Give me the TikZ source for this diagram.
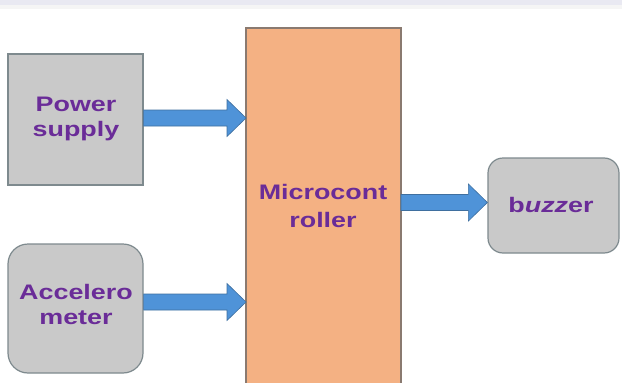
\documentclass[tikz,border=0pt]{standalone}
\usepackage{fontspec}
\setmainfont{Liberation Sans}
\usepackage{graphicx}
\usetikzlibrary{calc}
\definecolor{boxgray}{HTML}{C9C9C9}
\definecolor{boxedge}{HTML}{7E8A8E}
\definecolor{mcfill}{HTML}{F4B183}
\definecolor{mcedge}{HTML}{8A7A70}
\definecolor{arrowblue}{HTML}{4F93D8}
\definecolor{arrowedge}{HTML}{3F6F9F}
\definecolor{txtpurple}{HTML}{6A2C98}
\definecolor{topband}{HTML}{E9E9F2}
\newcommand\widetxt[1]{\scalebox{1.28}[1]{#1}}
\tikzset{
  lbl/.style={text=txtpurple, font=\fontsize{21}{25}\selectfont\bfseries, align=center, inner sep=0pt},
  graybox/.style={draw=boxedge, line width=1.2pt, fill=boxgray},
  mcbox/.style={draw=mcedge, line width=1.2pt, fill=mcfill},
  fat/.style={draw=arrowedge, line width=0.6pt, fill=arrowblue,
    to path={let \p1=(\tikztostart), \p2=(\tikztotarget) in
      (\x1,\y1-8pt) -- (\x2-19pt,\y1-8pt) -- (\x2-19pt,\y1-18.5pt) -- (\x2,\y1)
      -- (\x2-19pt,\y1+18.5pt) -- (\x2-19pt,\y1+8pt) -- (\x1,\y1+8pt) -- cycle}}
}
\begin{document}
\begin{tikzpicture}[x=1pt,y=-1pt]
\useasboundingbox (0,0) rectangle (622,383);
\fill[white] (0,0) rectangle (622,383);
\fill[topband] (0,0) rectangle (622,5);
\fill[black!4] (0,5) rectangle (622,9);
% boxes
\draw[mcbox] (246,28) rectangle (401,386);
\node (mc) at (323.5,205.5) {};
\node[graybox, minimum width=135pt, minimum height=131pt, inner sep=0pt] (ps) at (75.5,119.5) {};
\node[graybox, rounded corners=20pt, minimum width=135pt, minimum height=129pt, inner sep=0pt] (ac) at (75.5,308.5) {};
\node[graybox, rounded corners=15pt, minimum width=131pt, minimum height=95pt, inner sep=0pt] (bz) at (553.5,205.5) {};
\coordinate (mcw) at (246,0);
\coordinate (mce) at (401,0);
% labels
\node[lbl] (pstxt) at (76,119) {\widetxt{Power}\\\widetxt{supply}};
\node[lbl] (actxt) at (76,304) {\widetxt{Accelero}\\\widetxt{meter}};
\node[lbl, font=\fontsize{21}{28}\selectfont\bfseries] (mctxt) at (323,206) {\widetxt{Microcont}\\\widetxt{roller}};
\node[lbl] (bztxt) at (551,205) {\widetxt{b\textit{uzz}er}};
% arrows
\draw[fat] (ps.east |- 0,118) to (mcw |- 0,118);
\draw[fat] (ac.east |- 0,302) to (mcw |- 0,302);
\draw[fat] (mce |- 0,202.5) to (bz.west |- 0,202.5);
\end{tikzpicture}
\end{document}
